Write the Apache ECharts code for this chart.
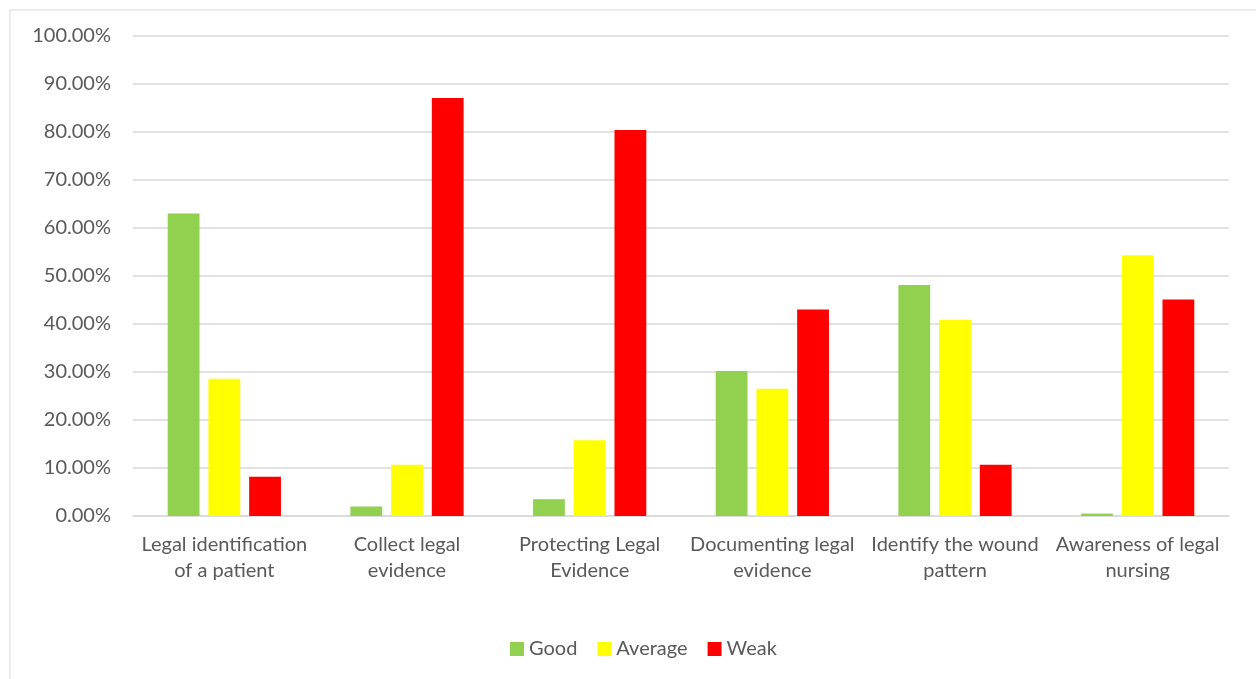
<!DOCTYPE html>
<html>
<head>
<meta charset="utf-8">
<script src="https://cdn.jsdelivr.net/npm/echarts@6/dist/echarts.min.js"></script>
<style>
  html, body { margin: 0; padding: 0; background: #fff; }
  #chart { width: 1256px; height: 679px; }
</style>
</head>
<body>
<div id="chart"></div>
<script>
const categories = [
  'Legal identification\nof a patient',
  'Collect legal\nevidence',
  'Protecting Legal\nEvidence',
  'Documenting legal\nevidence',
  'Identify the wound\npattern',
  'Awareness of legal\nnursing'
]
const good = [63.0, 2.0, 3.5, 30.2, 48.1, 0.5]
const average = [28.6, 10.7, 15.8, 26.5, 40.9, 54.3]
const weak = [8.2, 87.1, 80.4, 43.0, 10.7, 45.1]

const font = 'Lato, "Open Sans", sans-serif'
const textColor = '#595959'

const chart = echarts.init(document.getElementById('chart'))
chart.setOption({
  animation: false,
  textStyle: { fontFamily: font },
  graphic: [{
    type: 'rect',
    shape: { x: 10, y: 10, width: 1300, height: 700 },
    style: { fill: 'none', stroke: '#d9d9d9', lineWidth: 1 },
    silent: true
  }],
  legend: {
    top: 634,
    left: 505,
    itemWidth: 14,
    itemHeight: 14,
    itemGap: 20,
    icon: 'rect',
    textStyle: { fontSize: 20, color: textColor, fontFamily: font }
  },
  grid: {
    left: 133,
    right: 27,
    top: 36,
    bottom: 163
  },
  xAxis: {
    type: 'category',
    data: categories,
    axisLine: { lineStyle: { color: '#d9d9d9', width: 1.5 } },
    axisTick: { show: false },
    axisLabel: {
      interval: 0,
      color: textColor,
      fontSize: 20,
      lineHeight: 26,
      margin: 16,
      fontFamily: font
    }
  },
  yAxis: {
    type: 'value',
    min: 0,
    max: 100,
    interval: 10,
    axisLine: { show: false },
    axisTick: { show: false },
    axisLabel: {
      formatter: v => v.toFixed(2) + '%',
      color: textColor,
      fontSize: 20,
      margin: 22,
      fontFamily: font
    },
    splitLine: { lineStyle: { color: '#d9d9d9', width: 1.5 } }
  },
  series: [
    { name: 'Good', type: 'bar', data: good, color: '#92d050', barGap: '28%', barCategoryGap: '38%' },
    { name: 'Average', type: 'bar', data: average, color: '#ffff00' },
    { name: 'Weak', type: 'bar', data: weak, color: '#ff0000' }
  ]
})
</script>
</body>
</html>
